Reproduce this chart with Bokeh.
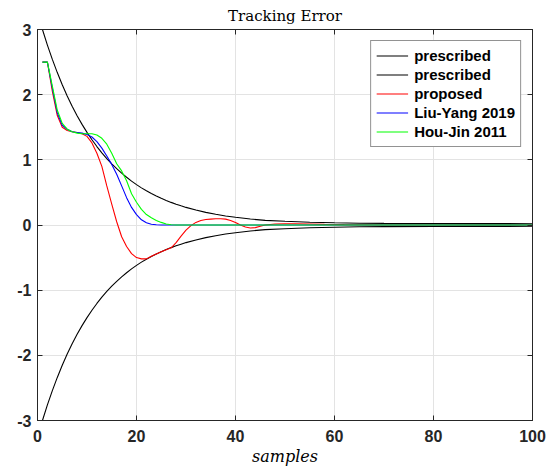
from bokeh.plotting import figure
from bokeh.models import Range1d, FixedTicker, LinearAxis, Legend, LegendItem
from bokeh.embed import file_html
from bokeh.resources import INLINE

# ---------------- data ----------------
x_ticks = [0, 20, 40, 60, 80, 100]
y_ticks = [-3, -2, -1, 0, 1, 2, 3]
y_tick_labels = ["-3", "-2", "-1", "0", "1", "2", "3"]

bound_x = list(range(1, 31)) + [32, 34, 36, 38, 40, 43, 46, 50, 55, 60, 65, 70, 80, 90, 100]
bound_upper = [3.000, 2.761, 2.541, 2.339, 2.152, 1.981, 1.823, 1.678, 1.544, 1.421,
               1.308, 1.204, 1.108, 1.020, 0.938, 0.864, 0.795, 0.732, 0.673, 0.620,
               0.570, 0.525, 0.483, 0.445, 0.409, 0.377, 0.347, 0.319, 0.294, 0.270,
               0.229, 0.194, 0.164, 0.139, 0.118, 0.092, 0.071, 0.058, 0.043, 0.034,
               0.028, 0.025, 0.022, 0.021, 0.020]
bound_lower = [-3.000, -2.761, -2.541, -2.339, -2.152, -1.981, -1.823, -1.678, -1.544, -1.421,
               -1.308, -1.204, -1.108, -1.020, -0.938, -0.864, -0.795, -0.732, -0.673, -0.620,
               -0.570, -0.525, -0.483, -0.445, -0.409, -0.377, -0.347, -0.319, -0.294, -0.270,
               -0.229, -0.194, -0.164, -0.139, -0.118, -0.092, -0.071, -0.058, -0.043, -0.034,
               -0.028, -0.025, -0.022, -0.021, -0.020]

resp_x = list(range(1, 47)) + [48, 50, 52, 55, 58, 62, 70, 80, 90, 100]
proposed = [2.50, 2.50, 2.05, 1.68, 1.50, 1.45, 1.43, 1.42, 1.40, 1.36,
            1.26, 1.10, 0.90, 0.60, 0.32, 0.05, -0.18, -0.33, -0.44, -0.50,
            -0.52, -0.52, -0.48, -0.445, -0.41, -0.38, -0.35, -0.27, -0.17, -0.08,
            -0.01, 0.04, 0.07, 0.085, 0.09, 0.095, 0.095, 0.09, 0.07, 0.04,
            0.00, -0.03, -0.045, -0.04, -0.02, 0.00,
            0.015, 0.02, 0.02, 0.015, 0.01, 0.005, 0.0, 0.0, 0.0, 0.0]
liu_yang = [2.50, 2.50, 2.10, 1.72, 1.53, 1.47, 1.43, 1.42, 1.41, 1.39,
            1.35, 1.28, 1.18, 1.06, 0.93, 0.78, 0.60, 0.42, 0.27, 0.16,
            0.08, 0.035, 0.012, 0.003, 0.0, 0.0, 0.0, 0.0, 0.0, 0.0,
            0.0, 0.0, 0.0, 0.0, 0.0, 0.0, 0.0, 0.0, 0.0, 0.0,
            0.0, 0.0, 0.0, 0.0, 0.0, 0.0,
            0.0, 0.0, 0.0, 0.0, 0.0, 0.0, 0.0, 0.0, 0.0, 0.0]
hou_jin = [2.50, 2.50, 2.13, 1.76, 1.56, 1.47, 1.43, 1.41, 1.40, 1.40,
           1.40, 1.38, 1.33, 1.24, 1.10, 0.94, 0.83, 0.68, 0.48, 0.35,
           0.24, 0.16, 0.11, 0.07, 0.04, 0.015, 0.004, 0.0, 0.0, 0.0,
           0.0, 0.0, 0.0, 0.0, 0.0, 0.0, 0.0, 0.0, 0.0, 0.0,
           0.0, 0.0, 0.0, 0.0, 0.0, 0.0,
           0.0, 0.0, 0.0, 0.0, 0.0, 0.0, 0.0, 0.0, 0.0, 0.0]

AX = "#262626"
TICK_FONT = "Liberation Sans"

p = figure(frame_width=495, frame_height=391,
           output_backend="svg", toolbar_location=None,
           x_range=Range1d(0, 100), y_range=Range1d(-3, 3),
           min_border_left=37, min_border_right=16, min_border_top=29, min_border_bottom=44)

p.title.text = "Tracking Error"
p.title.align = "center"
p.title.text_font = "DejaVu Serif"
p.title.text_font_size = "15px"
p.title.text_font_style = "normal"
p.title.text_color = "black"
p.title.standoff = 9

p.background_fill_color = "white"
p.border_fill_color = "white"
p.outline_line_color = AX

for ax, ticks in ((p.xaxis[0], x_ticks), (p.yaxis[0], y_ticks)):
    ax.ticker = FixedTicker(ticks=ticks)
    ax.major_tick_in = 5
    ax.major_tick_out = 0
    ax.minor_tick_line_color = None
    ax.axis_line_color = AX
    ax.major_tick_line_color = AX
    ax.major_label_text_font = TICK_FONT
    ax.major_label_text_font_style = "bold"
    ax.major_label_text_font_size = "16px"
    ax.major_label_text_color = AX
    ax.major_label_standoff = 6

p.xaxis[0].major_label_standoff = 9
p.yaxis[0].major_label_overrides = {t: s for t, s in zip(y_ticks, y_tick_labels)}

p.xaxis[0].axis_label = "samples"
p.xaxis[0].axis_label_text_font = "DejaVu Serif"
p.xaxis[0].axis_label_text_font_style = "italic"
p.xaxis[0].axis_label_text_font_size = "16px"
p.xaxis[0].axis_label_text_color = "black"
p.xaxis[0].axis_label_standoff = 2

for loc, ticks in (("above", x_ticks), ("right", y_ticks)):
    ax = LinearAxis(ticker=FixedTicker(ticks=ticks), major_tick_in=5, major_tick_out=0,
                    minor_tick_line_color=None, axis_line_color=AX, major_tick_line_color=AX,
                    major_label_overrides={t: "" for t in ticks},
                    major_label_text_font_size="1px", major_label_standoff=0)
    p.add_layout(ax, loc)

p.xgrid.ticker = FixedTicker(ticks=x_ticks)
p.ygrid.ticker = FixedTicker(ticks=y_ticks)
p.grid.grid_line_color = "#e3e3e3"
p.grid.grid_line_width = 1

r_up = p.line(bound_x, bound_upper, line_color="black", line_width=1.1)
r_lo = p.line(bound_x, bound_lower, line_color="black", line_width=1.1)
r_pr = p.line(resp_x, proposed, line_color="#ff0000", line_width=1.1)
r_ly = p.line(resp_x, liu_yang, line_color="#0000ff", line_width=1.1)
r_hj = p.line(resp_x, hou_jin, line_color="#00ff00", line_width=1.1)

legend = Legend(items=[LegendItem(label="prescribed", renderers=[r_up]),
                       LegendItem(label="prescribed", renderers=[r_lo]),
                       LegendItem(label="proposed", renderers=[r_pr]),
                       LegendItem(label="Liu-Yang 2019", renderers=[r_ly]),
                       LegendItem(label="Hou-Jin 2011", renderers=[r_hj])],
                location="top_right", margin=11, padding=5, spacing=0,
                label_height=19, glyph_height=19, glyph_width=32, label_standoff=6,
                label_text_font=TICK_FONT, label_text_font_style="bold",
                label_text_font_size="15px", label_text_color="black",
                border_line_color=AX, border_line_width=1,
                background_fill_color="white", background_fill_alpha=1)
p.add_layout(legend)

open("out.html", "w").write(file_html(p, INLINE))
